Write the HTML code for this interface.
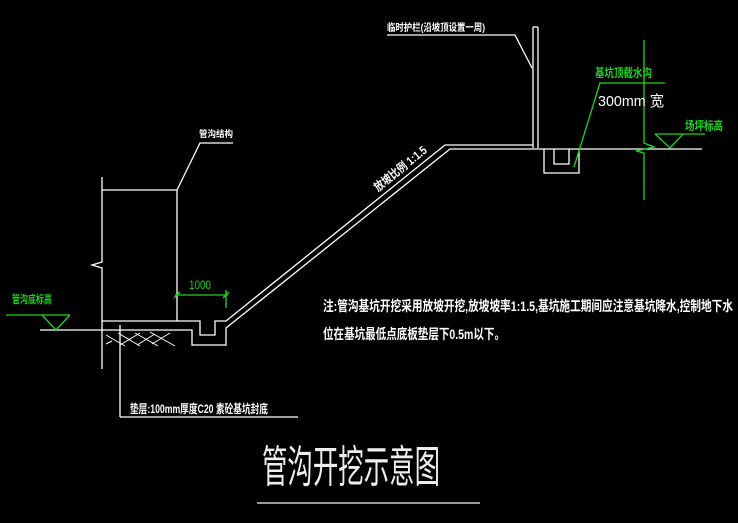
<!DOCTYPE html>
<html><head><meta charset="utf-8"><style>html,body{margin:0;padding:0;background:#000;}svg{display:block}</style></head>
<body>
<svg width="738" height="523" viewBox="0 0 738 523" xmlns="http://www.w3.org/2000/svg" font-family="'Liberation Sans','Noto Sans CJK SC',sans-serif">
<rect width="738" height="523" fill="#000"/>
<g stroke="#fff" stroke-width="1.3" fill="none">
  <polyline points="102,177 102,262 92,265 102,268 102,369"/>
  <line x1="102" y1="190" x2="177" y2="190"/>
  <line x1="177" y1="190" x2="177" y2="321"/>
  <polyline points="177,190 200,143 233,143"/>
  <polyline points="102,321 200,321 200,335 215,335 215,321 226,321 445,145 533,145"/>
  <polyline points="40,330 192,330 192,345 226,345 226,328 450,149 702,149"/>
  <line x1="120" y1="325" x2="120" y2="417"/>
  <line x1="120" y1="417" x2="298" y2="417"/>
  <g stroke-width="1">
    <line x1="106" y1="335" x2="125" y2="346"/><line x1="118" y1="333" x2="140" y2="346"/>
    <line x1="135" y1="333" x2="158" y2="346"/><line x1="150" y1="332" x2="175" y2="346"/>
    <line x1="120" y1="345" x2="140" y2="333"/><line x1="137" y1="345" x2="155" y2="334"/>
    <line x1="152" y1="344" x2="170" y2="333"/><line x1="106" y1="344" x2="112" y2="341"/>
  </g>
  <line x1="533" y1="27" x2="533" y2="148"/>
  <line x1="538" y1="27" x2="538" y2="148"/>
  <line x1="533" y1="27" x2="538" y2="27"/>
  <polyline points="532,68 515,35 387,35"/>
  <polyline points="544,149 544,173 579,173 579,149"/>
  <polyline points="554,149 554,164 569,164 569,149"/>
  <line x1="257" y1="503" x2="480" y2="503" stroke="#ccc" stroke-width="1.5"/>
</g>
<g stroke="#1ed31e" stroke-width="1.3" fill="none">
  <line x1="6" y1="315" x2="70" y2="315"/>
  <polyline points="42,315 56,330 70,315"/>
  <line x1="175" y1="295" x2="228" y2="295"/>
  <line x1="174" y1="298" x2="180" y2="292"/>
  <line x1="223" y1="298" x2="229" y2="292"/>
  <line x1="226" y1="290" x2="226" y2="308"/>
  <polyline points="644,40 644,143 654,147 636,151 644,153 644,200"/>
  <polyline points="574,167 600,83 665,83"/>
  <line x1="655" y1="134" x2="705" y2="134"/>
  <polyline points="655,134 670,148 683,134"/>
</g>
<g font-size="10" fill="#fff" font-weight="bold">
  <text x="199" y="137" textLength="34" lengthAdjust="spacingAndGlyphs" font-size="9">管沟结构</text>
  <text x="387" y="31" textLength="98" lengthAdjust="spacingAndGlyphs">临时护栏(沿坡顶设置一周)</text>
  <text x="130" y="413" textLength="138" lengthAdjust="spacingAndGlyphs" font-size="12">垫层:100mm厚度C20 素砼基坑封底</text>
  <text x="598" y="106" textLength="66" lengthAdjust="spacingAndGlyphs" font-size="15" font-weight="normal">300mm  宽</text>
  <text transform="translate(378,192) rotate(-39)" textLength="64" lengthAdjust="spacingAndGlyphs" font-size="12">放坡比例 1:1.5</text>
  <text x="323" y="311" textLength="410" lengthAdjust="spacingAndGlyphs" font-size="14">注:管沟基坑开挖采用放坡开挖,放坡坡率1:1.5,基坑施工期间应注意基坑降水,控制地下水</text>
  <text x="323" y="339" textLength="182" lengthAdjust="spacingAndGlyphs" font-size="14">位在基坑最低点底板垫层下0.5m以下。</text>
  <text x="262" y="482" textLength="178" lengthAdjust="spacingAndGlyphs" font-size="44" fill="#eee" font-weight="normal">管沟开挖示意图</text>
</g>
<g fill="#1ed31e" font-weight="bold">
  <text x="12" y="303" textLength="40" lengthAdjust="spacingAndGlyphs" font-size="11">管沟底标高</text>
  <text x="189" y="289" textLength="22" lengthAdjust="spacingAndGlyphs" font-size="12" font-weight="normal">1000</text>
  <text x="595" y="77" textLength="57" lengthAdjust="spacingAndGlyphs" font-size="12">基坑顶截水沟</text>
  <text x="685" y="130" textLength="38" lengthAdjust="spacingAndGlyphs" font-size="12">场坪标高</text>
</g>
</svg>
</body></html>
